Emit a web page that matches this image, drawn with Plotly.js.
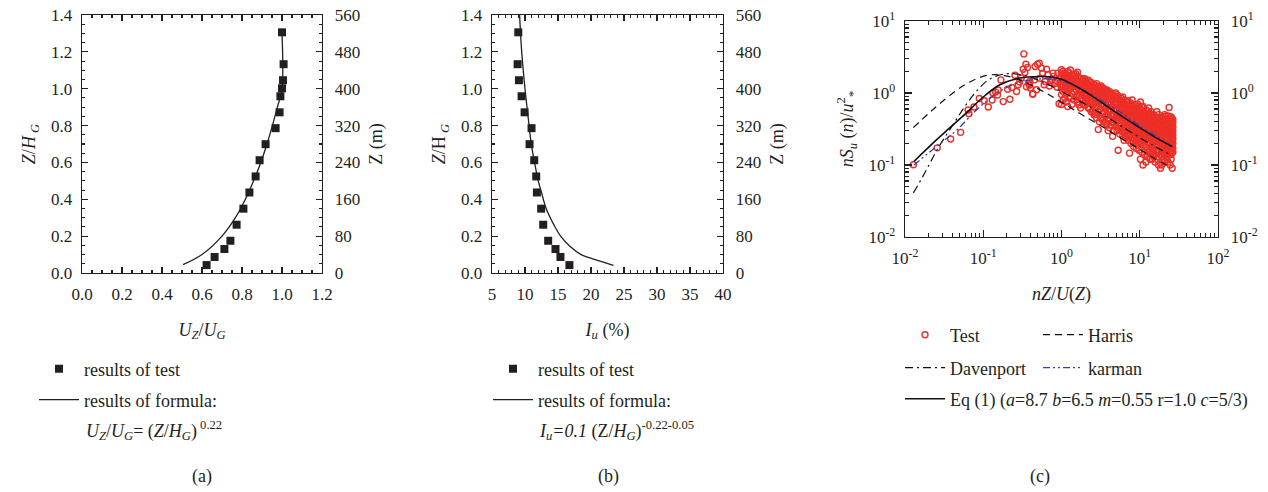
<!DOCTYPE html>
<html>
<head>
<meta charset="utf-8">
<script src="https://cdn.plot.ly/plotly-3.0.1.min.js"></script>
<style>html,body{margin:0;padding:0;background:#fff;}#chart{width:1268px;height:492px;}</style>
</head>
<body>
<div id="chart"></div>
<script>
// ---------- Panel (a): mean wind profile ----------
const heightTestA = [1.306, 1.133, 1.046, 1.002, 0.959, 0.872, 0.786, 0.699, 0.612, 0.524, 0.437, 0.349, 0.262, 0.175, 0.130, 0.087, 0.043];
const speedRatioTest = [1.0, 1.008, 1.005, 1.0, 0.992, 0.988, 0.968, 0.918, 0.888, 0.868, 0.837, 0.807, 0.773, 0.742, 0.712, 0.663, 0.623];
const heightFormulaA = [0.045, 0.1, 0.2, 0.3, 0.4, 0.5, 0.6, 0.7, 0.8, 0.9, 1.0, 1.3];
const speedRatioFormula = [0.505, 0.60, 0.70, 0.767, 0.817, 0.858, 0.894, 0.925, 0.952, 0.977, 1.0, 1.0];

// ---------- Panel (b): turbulence intensity ----------
const heightTestB = [1.306, 1.133, 1.046, 0.959, 0.872, 0.786, 0.699, 0.612, 0.524, 0.437, 0.349, 0.262, 0.175, 0.130, 0.087, 0.043];
const intensityTest = [8.98, 8.88, 9.08, 9.48, 9.94, 10.99, 10.69, 11.40, 11.70, 11.80, 12.45, 12.76, 13.51, 14.62, 15.37, 16.73];
const heightFormulaB = [1.4, 1.2, 1.0, 0.87, 0.7, 0.61, 0.5, 0.437, 0.35, 0.26, 0.2, 0.145, 0.1, 0.085, 0.042];
const intensityFormula = [9.18, 9.5, 10.0, 10.4, 10.95, 11.4, 12.0, 12.5, 13.2, 14.4, 15.4, 16.8, 18.5, 19.6, 23.4];

// ---------- Panel (c): spectra ----------
const harrisX = [0.0128, 0.02, 0.03, 0.05, 0.08, 0.12, 0.18, 0.3, 0.5, 0.8, 1.2, 2, 3.5, 6, 10, 15, 24];
const harrisY = [0.33, 0.52, 0.76, 1.17, 1.56, 1.78, 1.76, 1.5, 1.15, 0.86, 0.66, 0.47, 0.33, 0.23, 0.165, 0.125, 0.095];
const davenportX = [0.0128, 0.017, 0.0266, 0.0435, 0.061, 0.082, 0.116, 0.163, 0.22, 0.36, 0.6, 1, 2, 3.5, 6, 10, 15, 24];
const davenportY = [0.041, 0.07, 0.173, 0.4, 0.7, 1.06, 1.52, 1.78, 1.86, 1.72, 1.4, 1.05, 0.7, 0.49, 0.34, 0.24, 0.185, 0.14];
const karmanX = [0.013, 0.0266, 0.045, 0.082, 0.14, 0.22, 0.35, 0.55, 0.9, 1.5, 2.5, 4, 6.5, 10, 16, 26];
const karmanY = [0.1, 0.19, 0.3, 0.58, 0.95, 1.25, 1.48, 1.57, 1.52, 1.25, 0.93, 0.68, 0.49, 0.35, 0.255, 0.18];
const eq1X = [0.013, 0.0254, 0.0375, 0.061, 0.1, 0.163, 0.267, 0.435, 0.71, 1.0, 1.41, 2.2, 3.76, 6, 10, 16, 26];
const eq1Y = [0.112, 0.225, 0.33, 0.53, 0.88, 1.3, 1.58, 1.68, 1.68, 1.55, 1.3, 0.98, 0.66, 0.47, 0.33, 0.24, 0.18];

// test points, low-frequency part (read individually)
const testLowX = [0.0128, 0.0258, 0.0383, 0.0514, 0.064, 0.0656, 0.076, 0.089, 0.103, 0.116, 0.13, 0.133, 0.144, 0.152, 0.155, 0.168, 0.18, 0.205, 0.219, 0.232, 0.254, 0.267, 0.28, 0.291, 0.306, 0.324, 0.33, 0.34, 0.351, 0.357, 0.368, 0.38, 0.39, 0.394, 0.4, 0.427, 0.43, 0.45, 0.46, 0.48, 0.494, 0.52, 0.53, 0.556, 0.575, 0.6, 0.62, 0.645, 0.67, 0.7, 0.72, 0.75, 0.78, 0.79, 0.82, 0.85, 0.88, 0.9, 0.93, 0.95, 0.97];
const testLowY = [0.101, 0.173, 0.23, 0.284, 0.58, 0.515, 0.64, 0.84, 0.78, 0.64, 0.8, 1.0, 1.03, 0.94, 1.1, 1.52, 0.76, 1.13, 0.82, 1.19, 1.77, 1.05, 1.3, 1.42, 1.61, 2.14, 3.49, 1.93, 2.51, 1.22, 2.26, 1.35, 1.29, 1.45, 1.17, 0.98, 0.96, 1.52, 2.33, 1.11, 2.51, 2.6, 1.6, 2.21, 1.89, 1.3, 1.45, 2.14, 1.8, 1.25, 1.4, 1.55, 1.89, 1.7, 1.35, 1.5, 1.2, 1.89, 0.71, 1.6, 1.3];

// test points, dense part: one frequency column and the values read in it
const testColFreq = [1.0, 1.05, 1.1, 1.15, 1.2, 1.25, 1.3, 1.37, 1.45, 1.52, 1.6, 1.68, 1.75, 1.82, 1.9, 1.98, 2.05, 2.12, 2.2, 2.3, 2.4, 2.5, 2.6, 2.7, 2.8, 2.95, 3.05, 3.2, 3.35, 3.5, 3.65, 3.8, 3.95, 4.1, 4.3, 4.5, 4.7, 4.9, 5.1, 5.3, 5.55, 5.8, 6.05, 6.3, 6.55, 6.8, 7.1, 7.4, 7.7, 8.0, 8.35, 8.7, 9.0, 9.4, 9.8, 10.2, 10.6, 11, 11.5, 12, 12.5, 13, 13.5, 14, 14.5, 15, 15.7, 16.5, 17.4, 18.4, 19.2, 20, 20.8, 21.5, 22.3, 23, 23.7, 24.5, 25.2, 26, 26.5];
const testColValues = [
  [0.69, 0.95, 1.2, 1.45, 1.7, 1.9, 2.1],
  [0.8, 1.05, 1.3, 1.55, 1.8, 2.0],
  [0.85, 1.1, 1.35, 1.6, 1.85],
  [0.75, 1.0, 1.25, 1.5, 1.75],
  [0.65, 1.0, 1.25, 1.5, 1.75, 2.0],
  [0.85, 1.1, 1.35, 1.6, 1.9],
  [0.9, 1.15, 1.4, 1.65, 2.09],
  [0.7, 0.98, 1.22, 1.48, 1.72],
  [0.8, 1.05, 1.3, 1.55, 1.8],
  [0.88, 1.12, 1.38, 1.62, 1.85],
  [0.75, 0.95, 1.2, 1.45, 1.7, 1.95],
  [0.68, 0.9, 1.15, 1.4, 1.62],
  [0.62, 0.85, 1.1, 1.35, 1.6],
  [0.78, 1.02, 1.28, 1.45],
  [0.7, 0.95, 1.2, 1.5, 1.55],
  [0.68, 0.9, 1.12, 1.35, 1.58],
  [0.8, 1.0, 1.25, 1.45],
  [0.72, 0.92, 1.15, 1.38],
  [0.62, 0.85, 1.05, 1.3, 1.5],
  [0.6, 0.8, 1.0, 1.22, 1.42],
  [0.55, 0.75, 0.95, 1.15, 1.4],
  [0.55, 0.68, 0.85, 1.05, 1.25],
  [0.5, 0.7, 0.9, 1.1, 1.3],
  [0.5, 0.72, 0.92, 1.1, 1.28],
  [0.45, 0.65, 0.85, 1.0, 1.2, 1.35],
  [0.31, 0.55, 0.75, 0.95, 1.15],
  [0.4, 0.58, 0.78, 0.9, 1.05, 1.2],
  [0.45, 0.6, 0.8, 0.95, 1.1, 1.25],
  [0.42, 0.52, 0.68, 0.88, 1.05, 1.18],
  [0.4, 0.55, 0.7, 0.85, 1.0, 1.15],
  [0.38, 0.48, 0.62, 0.75, 0.9, 1.05],
  [0.36, 0.5, 0.65, 0.8, 0.95, 1.1],
  [0.3, 0.42, 0.55, 0.7, 0.85, 1.0],
  [0.33, 0.45, 0.6, 0.75, 0.9, 1.05],
  [0.36, 0.48, 0.58, 0.72, 0.85, 0.98],
  [0.25, 0.4, 0.5, 0.65, 0.8, 0.95],
  [0.3, 0.38, 0.5, 0.6, 0.75, 0.9],
  [0.35, 0.45, 0.55, 0.7, 0.85, 1.0],
  [0.3, 0.4, 0.48, 0.6, 0.72, 0.85, 0.95],
  [0.16, 0.32, 0.42, 0.52, 0.65, 0.78, 0.9],
  [0.27, 0.35, 0.45, 0.55, 0.68, 0.8],
  [0.3, 0.38, 0.48, 0.6, 0.72, 0.85],
  [0.25, 0.33, 0.42, 0.5, 0.62, 0.75, 0.88],
  [0.22, 0.28, 0.36, 0.45, 0.55, 0.68, 0.8],
  [0.24, 0.3, 0.38, 0.48, 0.58, 0.7],
  [0.26, 0.33, 0.42, 0.52, 0.62, 0.75],
  [0.22, 0.28, 0.35, 0.44, 0.54, 0.66, 0.78],
  [0.146, 0.25, 0.31, 0.38, 0.48, 0.58, 0.7],
  [0.2, 0.26, 0.32, 0.4, 0.5, 0.6, 0.72],
  [0.22, 0.28, 0.35, 0.44, 0.54, 0.65, 0.8],
  [0.18, 0.24, 0.3, 0.37, 0.46, 0.56, 0.68],
  [0.2, 0.26, 0.32, 0.4, 0.5, 0.6],
  [0.17, 0.22, 0.28, 0.34, 0.42, 0.52, 0.62],
  [0.19, 0.24, 0.3, 0.37, 0.45, 0.55, 0.7],
  [0.16, 0.21, 0.27, 0.33, 0.4, 0.48, 0.56, 0.66],
  [0.12, 0.2, 0.25, 0.3, 0.36, 0.42, 0.5, 0.6, 0.75],
  [0.15, 0.2, 0.24, 0.29, 0.34, 0.4, 0.47, 0.55, 0.64],
  [0.1, 0.22, 0.27, 0.32, 0.38, 0.45, 0.55, 0.65],
  [0.14, 0.19, 0.23, 0.28, 0.33, 0.39, 0.46, 0.53],
  [0.11, 0.18, 0.23, 0.28, 0.33, 0.4, 0.48, 0.58],
  [0.13, 0.17, 0.21, 0.25, 0.3, 0.35, 0.41, 0.48, 0.56],
  [0.15, 0.2, 0.25, 0.3, 0.36, 0.43, 0.52, 0.62],
  [0.12, 0.16, 0.2, 0.24, 0.28, 0.33, 0.39, 0.46, 0.52],
  [0.14, 0.18, 0.22, 0.27, 0.32, 0.38, 0.46, 0.55],
  [0.12, 0.15, 0.19, 0.23, 0.27, 0.31, 0.36, 0.43, 0.5],
  [0.13, 0.17, 0.21, 0.25, 0.3, 0.35, 0.42, 0.5],
  [0.11, 0.14, 0.18, 0.21, 0.25, 0.29, 0.34, 0.4, 0.47],
  [0.12, 0.16, 0.19, 0.23, 0.27, 0.32, 0.38, 0.45, 0.55],
  [0.1, 0.13, 0.16, 0.19, 0.22, 0.26, 0.3, 0.36, 0.42, 0.5],
  [0.09, 0.14, 0.17, 0.2, 0.24, 0.28, 0.33, 0.39, 0.46],
  [0.1, 0.13, 0.16, 0.19, 0.22, 0.26, 0.3, 0.35, 0.41, 0.45],
  [0.12, 0.15, 0.18, 0.21, 0.25, 0.29, 0.34, 0.4, 0.47],
  [0.11, 0.14, 0.17, 0.2, 0.23, 0.27, 0.31, 0.37, 0.43, 0.5],
  [0.13, 0.16, 0.19, 0.22, 0.26, 0.3, 0.35, 0.41, 0.48],
  [0.12, 0.15, 0.18, 0.21, 0.24, 0.28, 0.32, 0.38, 0.44],
  [0.11, 0.14, 0.17, 0.2, 0.23, 0.27, 0.31, 0.36, 0.42, 0.48],
  [0.63],
  [0.1, 0.15, 0.18, 0.21, 0.24, 0.28, 0.32, 0.37, 0.43, 0.47],
  [0.12, 0.14, 0.17, 0.2, 0.23, 0.26, 0.3, 0.35, 0.4, 0.46],
  [0.09, 0.16, 0.19, 0.22, 0.25, 0.29, 0.33, 0.38, 0.44],
  [0.15, 0.17, 0.2, 0.23, 0.26, 0.3, 0.34, 0.39, 0.43]
];

// tick labels
const zTicksRight = [0, 80, 160, 240, 320, 400, 480, 560];
const logTickValsX = [0.01, 0.1, 1, 10, 100];
const logTickTextX = ['10<sup>-2</sup>', '10<sup>-1</sup>', '10<sup>0</sup>', '10<sup>1</sup>', '10<sup>2</sup>'];
const logTickValsY = [0.01, 0.1, 1, 10];
const logTickTextY = ['10<sup>-2</sup>', '10<sup>-1</sup>', '10<sup>0</sup>', '10<sup>1</sup>'];

// ---------- build ----------
const testX = testLowX.slice();
const testY = testLowY.slice();
testColFreq.forEach((f, i) => testColValues[i].forEach(v => { testX.push(f); testY.push(v); }));

const minorLog = (lo, hi) => { const out = []; for (let e = lo; e < hi; e++) for (let k = 2; k <= 9; k++) out.push(k * Math.pow(10, e)); return out; };

const INK = '#231f20';
const FONT = 'Liberation Serif, Times New Roman, serif';
const W = 1268, H = 492;
const px = v => v / W;
const py = v => 1 - v / H;

const lin = (extra) => Object.assign({
  showline: true, linecolor: INK, linewidth: 1.3,
  ticks: 'inside', ticklen: 6, tickwidth: 1.1, tickcolor: INK,
  showgrid: false, zeroline: false, fixedrange: true,
  tickfont: {family: FONT, size: 17, color: INK},
  ticklabelstandoff: 5
}, extra);

const traces = [
  {x: speedRatioTest, y: heightTestA, xaxis: 'x', yaxis: 'y', type: 'scatter', mode: 'markers',
   marker: {symbol: 'square', size: 8, color: INK}, name: 'results of test', legend: 'legend'},
  {x: speedRatioFormula, y: heightFormulaA, xaxis: 'x', yaxis: 'y', type: 'scatter', mode: 'lines',
   line: {color: INK, width: 1.3, shape: 'spline'}, name: 'results of formula:', legend: 'legend2'},
  {x: [], y: [], xaxis: 'x', yaxis: 'y2', type: 'scatter', mode: 'markers', showlegend: false},

  {x: intensityTest, y: heightTestB, xaxis: 'x2', yaxis: 'y3', type: 'scatter', mode: 'markers',
   marker: {symbol: 'square', size: 8, color: INK}, name: 'results of test', legend: 'legend3'},
  {x: intensityFormula, y: heightFormulaB, xaxis: 'x2', yaxis: 'y3', type: 'scatter', mode: 'lines',
   line: {color: INK, width: 1.3, shape: 'spline'}, name: 'results of formula:', legend: 'legend4'},
  {x: [], y: [], xaxis: 'x2', yaxis: 'y4', type: 'scatter', mode: 'markers', showlegend: false},

  {x: testX, y: testY, xaxis: 'x3', yaxis: 'y5', type: 'scatter', mode: 'markers',
   marker: {symbol: 'circle-open', size: 6, color: '#ec2f28', line: {width: 1.4, color: '#ec2f28'}}, name: 'Test', legend: 'legend5'},
  {x: harrisX, y: harrisY, xaxis: 'x3', yaxis: 'y5', type: 'scatter', mode: 'lines',
   line: {color: '#111', width: 1.2, dash: '7px,5px', shape: 'spline'}, name: 'Harris', legend: 'legend6'},
  {x: davenportX, y: davenportY, xaxis: 'x3', yaxis: 'y5', type: 'scatter', mode: 'lines',
   line: {color: '#111', width: 1.2, dash: '8px,4px,2px,4px', shape: 'spline'}, name: 'Davenport', legend: 'legend7'},
  {x: karmanX, y: karmanY, xaxis: 'x3', yaxis: 'y5', type: 'scatter', mode: 'lines',
   line: {color: '#3a3ab4', width: 1.3, dash: '7px,3px,2px,3px,2px,3px', shape: 'spline'}, name: 'karman', legend: 'legend8'},
  {x: eq1X, y: eq1Y, xaxis: 'x3', yaxis: 'y5', type: 'scatter', mode: 'lines',
   line: {color: '#111', width: 1.6, shape: 'spline'},
   name: 'Eq (1) (<i>a</i>=8.7 <i>b</i>=6.5 <i>m</i>=0.55 r=1.0 <i>c</i>=5/3)', legend: 'legend9'},
  {x: [], y: [], xaxis: 'x3', yaxis: 'y6', type: 'scatter', mode: 'markers', showlegend: false}
];

const titleFont = {family: FONT, size: 18, color: INK};
const legendBase = (x, y) => ({x: px(x), y: py(y), xanchor: 'left', yanchor: 'middle', xref: 'paper', yref: 'paper',
  bgcolor: 'rgba(0,0,0,0)', borderwidth: 0, itemwidth: 40, font: {family: FONT, size: 18, color: INK}, itemclick: false, itemdoubleclick: false});

const layout = {
  width: W, height: H, margin: {l: 0, r: 0, t: 0, b: 0},
  paper_bgcolor: '#fff', plot_bgcolor: 'rgba(0,0,0,0)',
  font: {family: FONT, color: INK},
  hovermode: false,
  showlegend: true,
  // panel (a)
  xaxis: lin({domain: [px(82), px(322)], anchor: 'y', range: [0, 1.2], dtick: 0.2, tick0: 0, tickformat: '.1f', mirror: 'ticks',
    minor: {ticks: 'inside', ticklen: 3, dtick: 0.05, tickcolor: INK},
    title: {text: '<i>U</i><sub><i>Z</i></sub>/<i>U</i><sub><i>G</i></sub>', font: titleFont, standoff: 20}}),
  yaxis: lin({domain: [py(273), py(15)], anchor: 'x', range: [0, 1.4], dtick: 0.2, tick0: 0, tickformat: '.1f',
    minor: {ticks: 'inside', ticklen: 3, dtick: 0.05, tickcolor: INK},
    title: {text: '<i>Z</i>/<i>H</i><sub> <i>G</i></sub>', font: titleFont, standoff: 10}}),
  yaxis2: lin({overlaying: 'y', anchor: 'x', side: 'right', range: [0, 560], tickvals: zTicksRight, ticktext: zTicksRight.map(String),
    minor: {ticks: 'inside', ticklen: 3, dtick: 20, tickcolor: INK}, ticklabelstandoff: 8,
    title: {text: 'Z (m)', font: titleFont, standoff: 10}}),
  // panel (b)
  xaxis2: lin({domain: [px(492), px(723)], anchor: 'y3', range: [5, 40], dtick: 5, tick0: 5, mirror: 'ticks',
    minor: {ticks: 'inside', ticklen: 3, dtick: 1, tickcolor: INK},
    title: {text: '<i>I</i><sub><i>u</i></sub> (%)', font: titleFont, standoff: 20}}),
  yaxis3: lin({domain: [py(273), py(15)], anchor: 'x2', range: [0, 1.4], dtick: 0.2, tick0: 0, tickformat: '.1f',
    minor: {ticks: 'inside', ticklen: 3, dtick: 0.05, tickcolor: INK},
    title: {text: '<i>Z</i>/H<sub> <i>G</i></sub>', font: titleFont, standoff: 10}}),
  yaxis4: lin({overlaying: 'y3', anchor: 'x2', side: 'right', range: [0, 560], tickvals: zTicksRight, ticktext: zTicksRight.map(String),
    minor: {ticks: 'inside', ticklen: 3, dtick: 20, tickcolor: INK}, ticklabelstandoff: 8,
    title: {text: 'Z (m)', font: titleFont, standoff: 10}}),
  // panel (c)
  xaxis3: lin({domain: [px(905), px(1218)], anchor: 'y5', type: 'log', range: [-2, 2], tickmode: 'array',
    tickvals: logTickValsX, ticktext: logTickTextX, mirror: 'ticks', ticklen: 7,
    minor: {ticks: 'inside', ticklen: 4, tickmode: 'array', tickvals: minorLog(-2, 2), tickcolor: INK},
    title: {text: '<i>nZ</i>/<i>U</i>(<i>Z</i>)', font: titleFont, standoff: 20}}),
  yaxis5: lin({domain: [py(237), py(21)], anchor: 'x3', type: 'log', range: [-2, 1], tickmode: 'array',
    tickvals: logTickValsY, ticktext: logTickTextY, ticklen: 7,
    minor: {ticks: 'inside', ticklen: 4, tickmode: 'array', tickvals: minorLog(-2, 1), tickcolor: INK},
    title: {text: '<i>nS</i><sub><i>u</i></sub> (<i>n</i>)/<i>u</i><sup>2</sup><sub>*</sub>', font: titleFont, standoff: 10}}),
  yaxis6: lin({overlaying: 'y5', anchor: 'x3', side: 'right', type: 'log', range: [-2, 1], tickmode: 'array',
    tickvals: logTickValsY, ticktext: logTickTextY, ticklen: 7, ticklabelstandoff: 8,
    minor: {ticks: 'inside', ticklen: 4, tickmode: 'array', tickvals: minorLog(-2, 1), tickcolor: INK}}),

  legend: legendBase(34, 369),
  legend2: legendBase(34, 400),
  legend3: legendBase(488, 369),
  legend4: legendBase(488, 400),
  legend5: legendBase(900, 335),
  legend6: legendBase(1038, 335),
  legend7: legendBase(900, 368),
  legend8: legendBase(1038, 368),
  legend9: legendBase(900, 399),

  annotations: [
    {xref: 'paper', yref: 'paper', x: px(84), y: py(430), xanchor: 'left', yanchor: 'middle', showarrow: false,
     text: '<i>U</i><sub><i>Z</i></sub>/<i>U</i><sub><i>G</i></sub>= (<i>Z</i>/<i>H</i><sub><i>G</i></sub>)<sup> 0.22</sup>',
     font: {family: FONT, size: 18, color: INK}},
    {xref: 'paper', yref: 'paper', x: px(537), y: py(430), xanchor: 'left', yanchor: 'middle', showarrow: false,
     text: '<i>I</i><sub><i>u</i></sub><i>=0.1</i> (Z/<i>H</i><sub><i>G</i></sub>)<sup>-0.22-0.05</sup>',
     font: {family: FONT, size: 18, color: INK}},
    {xref: 'paper', yref: 'paper', x: px(202), y: py(476), xanchor: 'center', yanchor: 'middle', showarrow: false,
     text: '(a)', font: {family: FONT, size: 18, color: INK}},
    {xref: 'paper', yref: 'paper', x: px(608), y: py(476), xanchor: 'center', yanchor: 'middle', showarrow: false,
     text: '(b)', font: {family: FONT, size: 18, color: INK}},
    {xref: 'paper', yref: 'paper', x: px(1040), y: py(476), xanchor: 'center', yanchor: 'middle', showarrow: false,
     text: '(c)', font: {family: FONT, size: 18, color: INK}}
  ]
};

Plotly.newPlot('chart', traces, layout, {displayModeBar: false, staticPlot: true});
</script>
</body>
</html>
